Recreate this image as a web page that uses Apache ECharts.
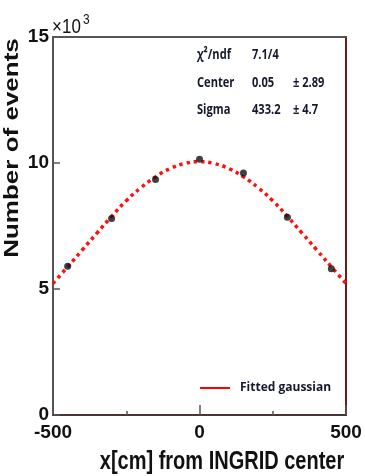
<!DOCTYPE html>
<html>
<head>
<meta charset="utf-8">
<script src="https://cdn.jsdelivr.net/npm/echarts@6/dist/echarts.min.js"></script>
<style>
html, body { margin: 0; padding: 0; background: #fff; }
#main { width: 365px; height: 476px; }
</style>
</head>
<body>
<div id="main"></div>
<script>
// measured beam profile (x in cm, events in units of 10^3)
var pointX = [-450, -300, -150, 0, 150, 300, 450];
var pointY = [5.9, 7.8, 9.35, 10.15, 9.6, 7.85, 5.8];

// fitted gaussian, every 50 cm
var fitX = [-500, -450, -400, -350, -300, -250, -200, -150, -100, -50, 0,
            50, 100, 150, 200, 250, 300, 350, 400, 450, 500];
var fitY = [5.22, 5.88, 6.55, 7.22, 7.88, 8.5, 9.02, 9.45, 9.78, 9.98, 10.05,
            9.98, 9.78, 9.45, 9.02, 8.5, 7.88, 7.22, 6.55, 5.88, 5.22];

var xTicks = [-500, 0, 500];
var yTicks = [0, 5, 10, 15];
var legendName = 'Fitted gaussian';
var statNames = ['χ²/ndf', 'Center', 'Sigma'];
var statValues = ['7.1/4', '0.05', '433.2'];
var statErrors = ['', '± 2.89', '± 4.7'];

var chart = echarts.init(document.getElementById('main'), null, { renderer: 'canvas' });

var tickFont = {
  fontFamily: 'Liberation Sans', fontWeight: 'bold', fontSize: 19, color: '#111'
};
var statFont = 'bold 15px "Open Sans"';
var statColor = '#15192e';
var rowY = [55, 82.5, 110];

// stats box text
var graphics = [];
for (var i = 0; i < statNames.length; i++) {
  graphics.push({
    type: 'text', x: 197, y: rowY[i], scaleX: 0.74, z: 10,
    style: { text: statNames[i], font: statFont, fill: statColor, verticalAlign: 'middle' }
  });
  graphics.push({
    type: 'text', x: 252, y: rowY[i], scaleX: 0.74, z: 10,
    style: { text: statValues[i], font: statFont, fill: statColor, verticalAlign: 'middle' }
  });
  if (statErrors[i]) {
    graphics.push({
      type: 'text', x: 293, y: rowY[i], scaleX: 0.74, z: 10,
      style: { text: statErrors[i], font: statFont, fill: statColor, verticalAlign: 'middle' }
    });
  }
}

// axis titles, drawn narrow like the original
graphics.push({
  type: 'text', x: 13, y: 148, rotation: Math.PI / 2, scaleY: 0.75,
  style: {
    text: 'Number of events', font: 'bold 26px "Liberation Sans"', fill: '#111',
    align: 'center', verticalAlign: 'middle'
  }
});
graphics.push({
  type: 'text', x: 222, y: 462, scaleX: 0.8,
  style: {
    text: 'x[cm] from INGRID center', font: 'bold 25px "Liberation Sans"', fill: '#111',
    align: 'center', verticalAlign: 'middle'
  }
});
// exponent of the y axis
graphics.push({
  type: 'text', x: 52, y: 27, scaleX: 0.85,
  style: { text: '×10', font: '20px "Liberation Sans"', fill: '#111', verticalAlign: 'middle' }
});
graphics.push({
  type: 'text', x: 83, y: 20, scaleX: 0.85,
  style: { text: '3', font: '14px "Liberation Sans"', fill: '#111', verticalAlign: 'middle' }
});

var option = {
  backgroundColor: '#ffffff',
  animation: false,
  grid: { left: 53, right: 19, top: 37, bottom: 61, show: true, borderColor: '#4a4a4a', borderWidth: 2 },
  legend: {
    left: 195, top: 377,
    itemWidth: 30, itemHeight: 2,
    data: [{ name: legendName, icon: 'rect', itemStyle: { color: '#ff0000', borderWidth: 0 } }],
    textStyle: { fontFamily: 'Open Sans', fontWeight: 'bold', fontSize: 12, color: statColor, padding: [0, 0, 0, 5] }
  },
  xAxis: [{
    type: 'value', min: -500, max: 500, interval: 500,
    axisLine: { onZero: false, lineStyle: { color: '#4a3434', width: 2 } },
    axisTick: { inside: true, length: 10, lineStyle: { color: '#555', width: 1.5 } },
    minorTick: { show: true, splitNumber: 2, length: 4, lineStyle: { color: '#555', width: 1.5 } },
    splitLine: { show: false },
    axisLabel: Object.assign({
      margin: 8,
      formatter: function (v) { return xTicks.indexOf(v) >= 0 ? String(v) : ''; }
    }, tickFont)
  }, {
    type: 'value', position: 'top', min: -500, max: 500,
    axisLine: { onZero: false, lineStyle: { color: '#555', width: 2 } },
    axisTick: { show: false }, axisLabel: { show: false }, splitLine: { show: false }
  }],
  yAxis: [{
    type: 'value', min: 0, max: 15, interval: 5,
    axisLine: { show: true, onZero: false, lineStyle: { color: '#555', width: 2 } },
    axisTick: { show: true, inside: true, length: 7, lineStyle: { color: '#555', width: 1.5 } },
    splitLine: { show: false },
    axisLabel: Object.assign({
      margin: 4,
      formatter: function (v) { return yTicks.indexOf(v) >= 0 ? String(v) : ''; }
    }, tickFont)
  }, {
    type: 'value', position: 'right', min: 0, max: 15,
    axisLine: { show: true, onZero: false, lineStyle: { color: '#6b1c1c', width: 2 } },
    axisTick: { show: false }, axisLabel: { show: false }, splitLine: { show: false }
  }],
  series: [{
    name: legendName,
    type: 'line',
    smooth: true,
    showSymbol: false,
    itemStyle: { color: '#ff0000' },
    lineStyle: { color: '#ff1010', width: 3.5, type: [3.5, 3.8], cap: 'butt' },
    data: fitX.map(function (x, i) { return [x, fitY[i]]; }),
    z: 3
  }, {
    name: 'data',
    type: 'scatter',
    symbolSize: 7,
    itemStyle: { color: '#111' },
    data: pointX.map(function (x, i) { return [x, pointY[i]]; }),
    z: 4
  }],
  graphic: graphics
};

chart.setOption(option);
</script>
</body>
</html>
